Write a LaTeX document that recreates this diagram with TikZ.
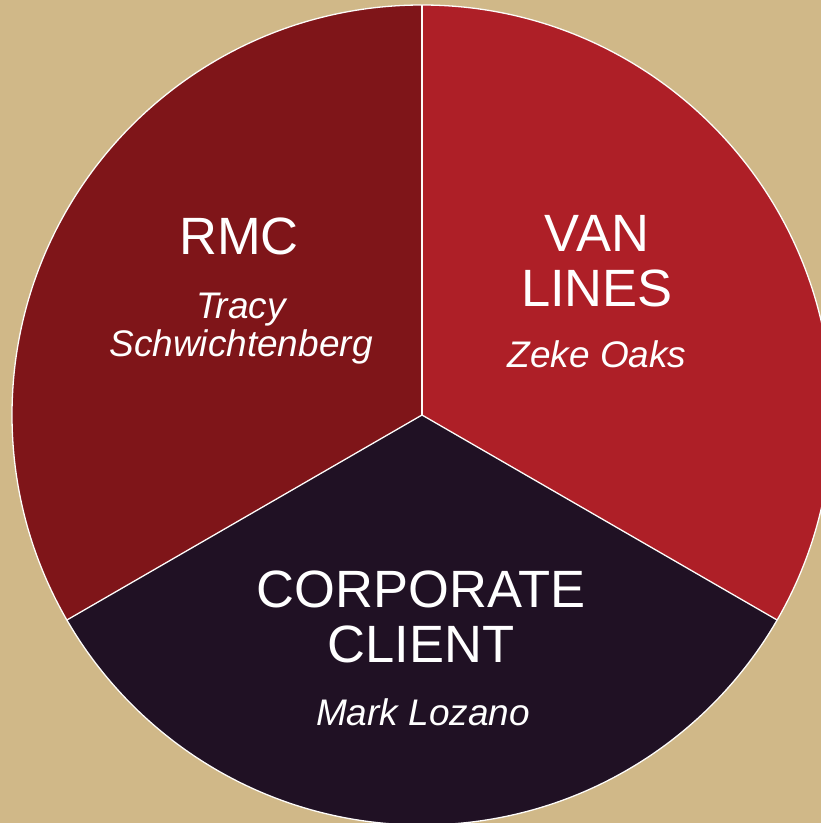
\documentclass[tikz,border=0pt]{standalone}
\usepackage{fontspec}
\setmainfont{Liberation Sans}
\usetikzlibrary{positioning,calc}

\definecolor{sand}{HTML}{D0B888}
\definecolor{wine}{HTML}{7F1519}
\definecolor{brick}{HTML}{AE1F27}
\definecolor{plum}{HTML}{201124}

\begin{document}
\begin{tikzpicture}[
    x=1pt, y=1pt,
    rim/.style={draw=white!96!sand, line width=1.3pt},
    title/.style={text=white, align=center, inner sep=0pt, anchor=base,
      font=\fontsize{52.5}{55}\selectfont},
    person/.style={text=white, align=center, inner sep=0pt, anchor=base,
      font=\fontsize{37}{38.5}\selectfont\itshape}
  ]
    \useasboundingbox (0,0) rectangle (821,823);
    \clip (0,0) rectangle (821,823);
    \fill[sand] (0,0) rectangle (821,823);

    \coordinate (hub) at (422,408);
    \def\rad{410}

    % the three slices
    \fill[wine]  (hub) -- ++(90:\rad)  arc (90:210:\rad)  -- cycle;
    \fill[brick] (hub) -- ++(-30:\rad) arc (-30:90:\rad)  -- cycle;
    \fill[plum]  (hub) -- ++(210:\rad) arc (210:330:\rad) -- cycle;

    \coordinate (top)   at ($(hub)+(90:\rad)$);
    \coordinate (left)  at ($(hub)+(210:\rad)$);
    \coordinate (right) at ($(hub)+(330:\rad)$);
    \draw[rim] (hub) circle (\rad);
    \draw[rim] (hub) -- (top);
    \draw[rim] (hub) -- (left);
    \draw[rim] (hub) -- (right);

    % labels (base = baseline of the last line)
    \node[title]  (rmc)    at (239,568) {RMC};
    \node[person] (rmcwho) at (241,466) {Tracy\\Schwichtenberg};

    \node[title]  (van)    at (597,516) {VAN\\LINES};
    \node[person] (vanwho) at (597,455) {Zeke Oaks};

    \node[title]  (corp)    at (421,160) {CORPORATE\\CLIENT};
    \node[person] (corpwho) at (423,97)  {Mark Lozano};
\end{tikzpicture}
\end{document}
